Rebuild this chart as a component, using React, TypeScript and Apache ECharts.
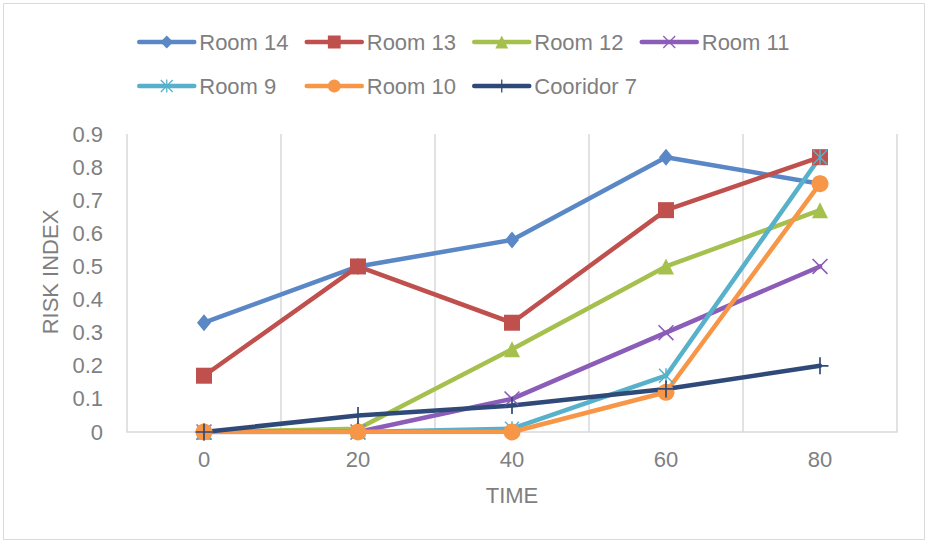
import React, { useEffect, useRef } from "react";
import * as echarts from "echarts";

const categories = ["0", "20", "40", "60", "80"];
const seriesNames = ["Room 14", "Room 13", "Room 12", "Room 11", "Room 9", "Room 10", "Cooridor 7"];
const room14 = [0.33, 0.5, 0.58, 0.83, 0.75];
const room13 = [0.17, 0.5, 0.33, 0.67, 0.83];
const room12 = [0, 0.01, 0.25, 0.5, 0.67];
const room11 = [0, 0, 0.1, 0.3, 0.5];
const room9 = [0, 0, 0.01, 0.17, 0.83];
const room10 = [0, 0, 0, 0.12, 0.75];
const corridor7 = [0, 0.05, 0.08, 0.13, 0.2];
const yTicks = { min: 0, max: 0.9, interval: 0.1 };

const seriesValues = [room14, room13, room12, room11, room9, room10, corridor7];
const colors = ["#5A87C5", "#C0504D", "#A6C04E", "#8B5CB8", "#57B1CA", "#F79646", "#2F4A78"];

const PLUS = "path://M9,0h2v20h-2zM0,9h20v2h-20z";
const XMARK = "path://M0,1.4L1.4,0L20,18.6L18.6,20ZM18.6,0L20,1.4L1.4,20L0,18.6Z";
const STAR = "path://M9,0h2v20h-2zM0,1.4L1.4,0L20,18.6L18.6,20ZM18.6,0L20,1.4L1.4,20L0,18.6Z";

const symbols = ["diamond", "rect", "triangle", XMARK, STAR, "circle", PLUS];
const symbolSizes: any[] = [[14, 17], 16, 16, 16, 15, 17, 17];

const TEXT = "#7f7f7f";
const FONT = "'Liberation Sans', Arial, sans-serif";
const FS = 22;

export default function App() {
  const ref = useRef<HTMLDivElement>(null);
  useEffect(() => {
    if (!ref.current) return;
    const chart = echarts.init(ref.current, null, { renderer: "svg" });
    const legends = seriesNames.map((name, i) => {
      const row = i < 4 ? 0 : 1;
      const col = i < 4 ? i : i - 4;
      return {
        data: [name],
        left: 137 + col * 167.5,
        top: row === 0 ? 31 : 75,
        padding: 0,
        itemWidth: 55,
        itemHeight: 16,
        itemGap: 0,
        lineStyle: { width: 4.5, cap: "round" },
        textStyle: { color: TEXT, fontSize: FS, fontFamily: FONT },
      };
    });
    chart.setOption({
      animation: false,
      backgroundColor: "#ffffff",
      color: colors,
      legend: legends,
      grid: { left: 127, right: 31, top: 134, bottom: 111 },
      xAxis: {
        type: "category",
        data: categories,
        boundaryGap: true,
        name: "TIME",
        nameLocation: "middle",
        nameGap: 52,
        nameTextStyle: { color: TEXT, fontSize: FS, fontFamily: FONT },
        axisLine: { lineStyle: { color: "#d9d9d9", width: 1.5 } },
        axisTick: { show: false },
        axisLabel: { color: TEXT, fontSize: FS, fontFamily: FONT, margin: 16 },
        splitLine: { show: true, lineStyle: { color: "#d9d9d9", width: 1.5 } },
      },
      yAxis: {
        type: "value",
        min: yTicks.min,
        max: yTicks.max,
        interval: yTicks.interval,
        axisLine: { show: false },
        axisTick: { show: false },
        splitLine: { show: false },
        axisLabel: {
          color: TEXT,
          fontSize: FS,
          fontFamily: FONT,
          margin: 24,
          formatter: (v: number) => (v === 0 ? "0" : v.toFixed(1)),
        },
      },
      graphic: [
        {
          type: "rect",
          shape: { x: 3.5, y: 3.5, width: 921, height: 536 },
          style: { fill: "none", stroke: "#d9d9d9", lineWidth: 1 },
          silent: true,
        },
        {
          type: "text",
          x: 50,
          y: 272,
          rotation: Math.PI / 2,
          style: {
            text: "RISK INDEX",
            fill: TEXT,
            fontSize: FS,
            fontFamily: FONT,
            align: "center",
            verticalAlign: "middle",
          },
        },
      ],
      series: seriesNames.map((name, i) => ({
        name,
        type: "line",
        data: seriesValues[i],
        symbol: symbols[i],
        symbolSize: symbolSizes[i],
        showAllSymbol: true,
        lineStyle: { width: 4.5, color: colors[i], cap: "round" },
        itemStyle: { color: colors[i], borderWidth: 0 },
        emphasis: { disabled: true },
      })),
    });
    return () => chart.dispose();
  }, []);
  return (
    <div
      ref={ref}
      style={{ position: "absolute", left: 0, top: 0, width: 928, height: 543 }}
    />
  );
}
